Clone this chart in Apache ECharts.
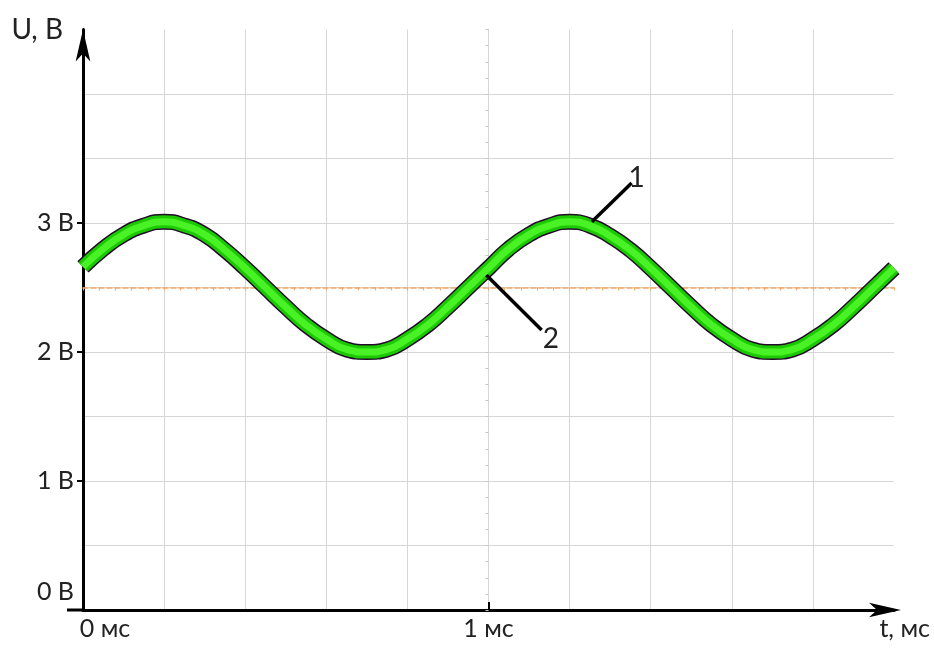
<!DOCTYPE html>
<html>
<head>
<meta charset="utf-8">
<script src="https://cdn.jsdelivr.net/npm/echarts@6/dist/echarts.min.js"></script>
<style>
html, body {
  margin: 0;
  padding: 0;
  background: #fff;
}

#graph {
  width: 934px;
  height: 648px;
}
</style>
</head>
<body>
<div id="graph"></div>
<script>
// время, мс
const timeMs = [0, 0.05, 0.1, 0.15, 0.2, 0.25, 0.3, 0.35, 0.4, 0.45,
  0.5, 0.55, 0.6, 0.65, 0.7, 0.75, 0.8, 0.85, 0.9, 0.95,
  1.0, 1.05, 1.1, 1.15, 1.2, 1.25, 1.3, 1.35, 1.4, 1.45,
  1.5, 1.55, 1.6, 1.65, 1.7, 1.75, 1.8, 1.85, 1.9, 1.95, 2.0];
const voltage = [2.66, 2.80, 2.91, 2.98, 3.01, 2.98, 2.91, 2.79, 2.65, 2.50,
  2.35, 2.21, 2.10, 2.02, 2.00, 2.02, 2.10, 2.21, 2.35, 2.50,
  2.65, 2.80, 2.91, 2.98, 3.01, 2.98, 2.90, 2.79, 2.65, 2.50,
  2.35, 2.21, 2.10, 2.02, 2.00, 2.02, 2.10, 2.21, 2.35, 2.50, 2.65];

const yLabelValues = [0, 1, 2, 3];
const yTickValues = [1, 2, 3];
const xLabelValues = [0, 1];
const xTickValues = [1];

// выноски "1" и "2": [начало, конец] в координатах графика
const pointer1 = [[1.255, 3.01], [1.353, 3.31]];
const pointer2 = [[0.99, 2.61], [1.131, 2.17]];

const font = 'Lato';
const textColor = '#222';
const gridColor = '#d6d6d6';
const traceData = timeMs.map((t, i) => [t, voltage[i]]);

let myChart = echarts.init(document.getElementById('graph'));

const traceLayers = [
  {width: 16, color: '#220c2a'},
  {width: 13, color: '#1cc800'},
  {width: 7, color: '#48f224'},
];

let series = traceLayers.map((layer, i) => ({
  type: 'line',
  xAxisIndex: 0,
  yAxisIndex: 0,
  data: traceData,
  smooth: true,
  showSymbol: false,
  silent: true,
  z: 3 + i,
  lineStyle: {width: layer.width, color: layer.color, cap: 'butt'},
}));

series[series.length - 1].markLine = {
  symbol: 'none',
  silent: true,
  lineStyle: {color: '#000', width: 3.5, type: 'solid'},
  label: {
    show: true,
    position: 'end',
    distance: 7,
    fontFamily: font,
    fontSize: 28,
    color: textColor,
  },
  data: [
    [{coord: pointer1[0]}, {coord: pointer1[1], label: {formatter: '1'}}],
    [{coord: pointer2[0]}, {coord: pointer2[1], label: {formatter: '2', distance: 13}}],
  ],
};

myChart.setOption({
  backgroundColor: '#fff',
  animation: false,
  grid: {
    left: 83,
    right: 40,
    top: 29.5,
    bottom: 38,
    containLabel: false,
    outerBoundsMode: 'none',
  },
  xAxis: [
    {
      // основная ось t: линия, стрелка, сетка
      type: 'value',
      position: 'bottom',
      min: 0,
      max: 2,
      interval: 0.2,
      name: 't, мс',
      nameLocation: 'end',
      nameGap: 36,
      nameTextStyle: {
        fontFamily: font,
        fontSize: 25,
        color: textColor,
        align: 'right',
        verticalAlign: 'top',
        padding: [6, 0, 0, 0],
      },
      axisLine: {
        onZero: false,
        symbol: ['none', 'arrow'],
        symbolSize: [11, 32],
        symbolOffset: [0, 7],
        lineStyle: {color: '#000', width: 3},
      },
      axisTick: {show: false},
      axisLabel: {show: false},
      splitLine: {
        show: true,
        showMinLine: false,
        showMaxLine: false,
        lineStyle: {color: gridColor, width: 1},
      },
    },
    {
      // уровень 2,5 В (оранжевая пунктирная линия)
      type: 'value',
      position: 'bottom',
      min: 0,
      max: 2,
      interval: 0.04,
      axisLine: {
        show: true,
        onZero: true,
        onZeroAxisIndex: 1,
        lineStyle: {color: '#f4a764', width: 1.5, type: [5, 3]},
      },
      axisTick: {show: true, length: 3, lineStyle: {color: '#f4a764', width: 1}},
      axisLabel: {show: false},
      splitLine: {show: false},
    },
    {
      type: 'value',
      show: false,
      position: 'top',
      min: -1,
      max: 1,
    },
    {
      // подписи и деление оси t
      type: 'value',
      position: 'bottom',
      min: 0,
      max: 2,
      axisLine: {show: false, onZero: false},
      axisTick: {
        show: true,
        customValues: xTickValues,
        inside: true,
        length: 8,
        lineStyle: {color: '#000', width: 2},
      },
      axisLabel: {
        show: true,
        customValues: xLabelValues,
        margin: 6,
        fontFamily: font,
        fontSize: 25,
        color: textColor,
        formatter: function (v) {
          return v === 0 ? '{first|0 мс}' : v + ' мс';
        },
        rich: {
          first: {fontFamily: font, fontSize: 25, color: textColor, padding: [0, 0, 0, 44]},
        },
      },
      splitLine: {show: false},
    },
  ],
  yAxis: [
    {
      // основная ось U: линия, стрелка, сетка
      type: 'value',
      position: 'left',
      min: 0,
      max: 4.5,
      interval: 0.5,
      name: 'U, В',
      nameLocation: 'end',
      nameGap: 0,
      nameTextStyle: {
        fontFamily: font,
        fontSize: 28,
        color: textColor,
        align: 'right',
        verticalAlign: 'middle',
        padding: [0, 20, 0, 0],
      },
      axisLine: {
        onZero: false,
        symbol: ['none', 'arrow'],
        symbolSize: [11, 32],
        lineStyle: {color: '#000', width: 3},
      },
      axisTick: {show: false},
      axisLabel: {show: false},
      splitLine: {
        show: true,
        showMinLine: false,
        showMaxLine: false,
        lineStyle: {color: gridColor, width: 1},
      },
    },
    {
      type: 'value',
      show: false,
      position: 'left',
      min: -2.5,
      max: 2,
    },
    {
      // центральная вертикаль с мелкими делениями
      type: 'value',
      position: 'left',
      min: 0,
      max: 4.5,
      interval: 0.125,
      axisLine: {
        show: true,
        onZero: true,
        onZeroAxisIndex: 2,
        lineStyle: {color: gridColor, width: 1},
      },
      axisTick: {show: true, length: 3, lineStyle: {color: '#c4c4c4', width: 1}},
      axisLabel: {show: false},
      splitLine: {show: false},
    },
    {
      // подписи и деления оси U
      type: 'value',
      position: 'left',
      min: 0,
      max: 4.5,
      axisLine: {show: false, onZero: false},
      axisTick: {
        show: true,
        customValues: yTickValues,
        length: 6,
        lineStyle: {color: '#000', width: 2},
      },
      axisLabel: {
        show: true,
        customValues: yLabelValues,
        margin: 9,
        fontFamily: font,
        fontSize: 25,
        color: textColor,
        lineHeight: 36,
        verticalAlignMinLabel: 'bottom',
        formatter: function (v) {
          return v + ' В';
        },
      },
      splitLine: {show: false},
    },
  ],
  series: series,
});

// короткий выступ оси t левее оси U
const origin = myChart.convertToPixel({xAxisIndex: 0, yAxisIndex: 0}, [0, 0]);
myChart.setOption({
  graphic: [{
    type: 'line',
    shape: {x1: origin[0] - 16, y1: origin[1], x2: origin[0], y2: origin[1]},
    style: {stroke: '#000', lineWidth: 3},
    z: 10,
  }],
});
</script>
</body>
</html>
